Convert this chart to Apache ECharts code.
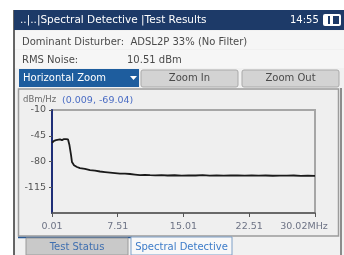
<!DOCTYPE html>
<html>
<head>
<meta charset="utf-8">
<script src="https://cdn.jsdelivr.net/npm/echarts@6/dist/echarts.min.js"></script>
<style>
html,body{margin:0;padding:0;background:#fff;}
#c{width:344px;height:255px;}
</style>
</head>
<body>
<div id="c"></div>
<script>
// Frequency (MHz) and noise level (dBm/Hz)
const freqMHz = [0.01,0.24,0.47,0.69,0.92,1.15,1.38,1.61,1.84,2.0,2.18,2.29,2.52,2.86,3.2,3.77,4.35,4.92,5.49,6.06,6.63,7.2,7.77,8.34,8.91,9.48,10.05,10.6,11.2,11.8,12.5,13.2,14.0,14.8,15.6,16.4,17.2,18.0,18.8,19.6,20.4,21.2,22.0,22.8,23.6,24.4,25.2,26.0,26.8,27.6,28.4,29.2,30.02];
const levelDbm = [-54.5,-52,-51,-51.5,-50,-51,-49.5,-49.5,-50,-57.6,-71,-80.7,-85,-87.5,-89,-90,-91.6,-92.3,-93.6,-94.3,-95,-95.7,-96.4,-96.4,-97,-97.7,-98.4,-98.1,-98.6,-98.9,-98.5,-99.0,-98.7,-99.2,-98.8,-99.0,-98.6,-99.1,-98.9,-99.3,-98.8,-99.0,-99.2,-98.9,-99.3,-99.0,-99.4,-99.1,-99.3,-99.0,-99.5,-99.2,-99.6];
const xTicks = [0.01,7.51,15.01,22.51,30.02];
const yTicks = [-10,-45,-80,-115];

const title = '..|..|Spectral Detective |Test Results';
const clock = '14:55';
const disturber = 'Dominant Disturber:  ADSL2P 33% (No Filter)';
const rmsLabel = 'RMS Noise:';
const rmsValue = '10.51 dBm';
const cursorText = '(0.009, -69.04)';

const font = '"DejaVu Sans", sans-serif';
const chart = echarts.init(document.getElementById('c'), null, {renderer:'canvas'});
const txt = (x,y,t,fill,size,extra) => Object.assign({type:'text', z:100, style:{x:x,y:y,text:t,fill:fill,font:(size||10)+'px '+font,textVerticalAlign:'middle'}}, extra||{});

chart.setOption({
  backgroundColor:'#ffffff',
  animation:false,
  grid:{left:52, right:29, top:110, bottom:42, show:true, borderColor:'#a6a6a6', borderWidth:2, backgroundColor:'transparent'},
  xAxis:{
    type:'value', min:0.01, max:30.02,
    splitLine:{show:false},
    axisLine:{lineStyle:{color:'#555', width:1.5}},
    axisTick:{show:true, customValues:xTicks, length:4, lineStyle:{color:'#555'}},
    axisLabel:{customValues:xTicks, color:'#6d7385', fontSize:9.5, fontFamily:font, margin:9,
      formatter:function(v){ if (Math.abs(v-30.02)<1e-6) return '{e|30.02MHz}'; return v.toFixed(2);},
      rich:{e:{color:'#6d7385', fontSize:9.5, fontFamily:font, padding:[0,22,0,0]}}}
  },
  yAxis:{
    type:'value', min:-150, max:-10, interval:35,
    splitLine:{show:false},
    axisLine:{show:true, lineStyle:{color:'#1f2f78', width:2}},
    axisTick:{show:true, customValues:yTicks, length:3, lineStyle:{color:'#555'}},
    axisLabel:{customValues:yTicks, color:'#555', fontSize:9.5, fontFamily:font, margin:6}
  },
  series:[{
    type:'line', showSymbol:false, symbol:'none',
    data:freqMHz.map((f,i)=>[f, levelDbm[i]]),
    lineStyle:{color:'#1a1a1a', width:1.8}, z:5
  }],
  graphic:[
    {type:'rect', z:-10, shape:{x:14,y:10,width:330,height:245}, style:{fill:'#f1f1f1'}},
    {type:'line', z:1, shape:{x1:14,y1:10,x2:14,y2:255}, style:{stroke:'#333', lineWidth:1.5}},
    {type:'rect', z:1, shape:{x:14,y:10,width:330,height:20}, style:{fill:'#1d3a68'}},
    txt(20,20,title,'#ffffff',10.5),
    txt(290,20,clock,'#ffffff',10),
    {type:'rect', z:100, shape:{x:323,y:14,width:18,height:12,r:2}, style:{fill:'#ffffff'}},
    {type:'rect', z:101, shape:{x:328,y:16,width:2,height:8}, style:{fill:'#1d3a68'}},
    {type:'rect', z:101, shape:{x:333,y:16,width:6,height:8}, style:{fill:'#1d3a68'}},
    {type:'rect', z:0, shape:{x:15,y:31,width:329,height:18}, style:{fill:'#f6f6f6'}},
    {type:'rect', z:0, shape:{x:15,y:50,width:329,height:18}, style:{fill:'#f6f6f6'}},
    txt(22,42,disturber,'#4a4a4a',10),
    txt(22,60,rmsLabel,'#4a4a4a',10),
    txt(127,60,rmsValue,'#4a4a4a',10),
    {type:'rect', z:1, shape:{x:19,y:69,width:120,height:18}, style:{fill:'#1e5d9e'}},
    txt(23,78,'Horizontal Zoom','#ffffff',10),
    {type:'polygon', z:101, shape:{points:[[130,76],[137,76],[133.5,80]]}, style:{fill:'#ffffff'}},
    {type:'rect', z:1, shape:{x:141,y:70,width:97,height:17,r:2}, style:{fill:'#d3d3d3', stroke:'#a9a9a9', lineWidth:1}},
    txt(189.5,78.5,'Zoom In','#4a4a4a',10,{style:{x:189.5,y:78.5,text:'Zoom In',fill:'#4a4a4a',font:'10px '+font,textAlign:'center',textVerticalAlign:'middle'}}),
    {type:'rect', z:1, shape:{x:242,y:70,width:97,height:17,r:2}, style:{fill:'#d3d3d3', stroke:'#a9a9a9', lineWidth:1}},
    txt(290.5,78.5,'Zoom Out','#4a4a4a',10,{style:{x:290.5,y:78.5,text:'Zoom Out',fill:'#4a4a4a',font:'10px '+font,textAlign:'center',textVerticalAlign:'middle'}}),
    {type:'rect', z:-5, shape:{x:18.5,y:89,width:320,height:147}, style:{fill:'#efefef', stroke:'#9c9c9c', lineWidth:1.5}},
    {type:'line', z:1, shape:{x1:341,y1:88,x2:341,y2:255}, style:{stroke:'#8c8c8c', lineWidth:2}},
    txt(23,100,'dBm/Hz','#6a6a6a',8.5),
    txt(62,101,cursorText,'#4a6cc4',9.5),
    {type:'line', z:1, shape:{x1:18,y1:237.5,x2:132,y2:237.5}, style:{stroke:'#2a5a94', lineWidth:1.5}},
    {type:'rect', z:1, shape:{x:26,y:238,width:102,height:17}, style:{fill:'#c9c9c9', stroke:'#9a9a9a', lineWidth:1}},
    txt(77,247,'Test Status','#3f6fb0',10,{style:{x:77,y:247,text:'Test Status',fill:'#3f6fb0',font:'10px '+font,textAlign:'center',textVerticalAlign:'middle'}}),
    {type:'rect', z:1, shape:{x:131,y:237,width:101,height:18}, style:{fill:'#f8f8f8', stroke:'#7fa0c8', lineWidth:1}},
    txt(181.5,247,'Spectral Detective','#3d7cc9',10,{style:{x:181.5,y:247,text:'Spectral Detective',fill:'#3d7cc9',font:'10px '+font,textAlign:'center',textVerticalAlign:'middle'}})
  ]
});
</script>
</body>
</html>
